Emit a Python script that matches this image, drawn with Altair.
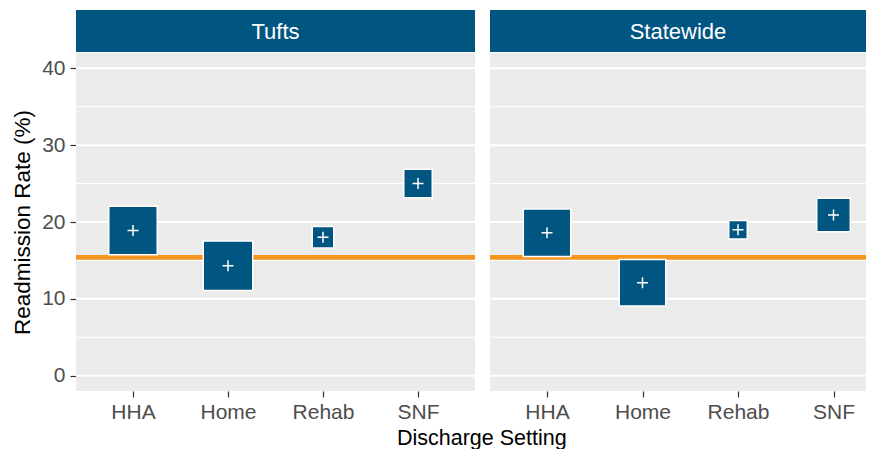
import altair as alt
import pandas as pd

settings = ["HHA", "Home", "Rehab", "SNF"]
regions = ["Tufts", "Statewide"]
tufts_rate = [18.9, 14.3, 18.0, 25.0]
statewide_rate = [18.6, 12.1, 19.0, 20.9]
# relative discharge volume (drives square area)
tufts_volume = [94, 98, 18.5, 32.5]
statewide_volume = [90, 86.5, 13.7, 45]
benchmark = 15.4
major_breaks = [0, 10, 20, 30, 40]
minor_breaks = [5, 15, 25, 35]

BLUE = "#005581"
ORANGE = "#F7941D"
FONT = "Liberation Sans"
PH, SH = 338, 42

rows = []
for reg, rates, vols in [("Tufts", tufts_rate, tufts_volume), ("Statewide", statewide_rate, statewide_volume)]:
    for s, r, v in zip(settings, rates, vols):
        rows.append({"region": reg, "setting": s, "rate": r, "volume": v})
df = pd.DataFrame(rows)

yscale = alt.Scale(domain=[-2, 42], nice=False, zero=False)


def panel(reg, first, pw, xpad, xalign):
    d = df[df.region == reg]
    if first:
        yaxis = alt.Axis(values=major_breaks, title="Readmission Rate (%)", grid=False,
                         tickSize=6, labelPadding=5, titlePadding=7, domain=False)
    else:
        yaxis = alt.Axis(values=major_breaks, title=None, grid=False, labels=False,
                         ticks=False, domain=False)
    x = alt.X("setting:N", sort=settings, title=None,
              scale=alt.Scale(type="point", padding=xpad, align=xalign),
              axis=alt.Axis(grid=False, domain=False, tickSize=6, labelPadding=4, labelAngle=0))
    gmaj = alt.Chart(pd.DataFrame({"v": major_breaks})).mark_rule(color="white", strokeWidth=2).encode(
        y=alt.Y("v:Q", scale=yscale, axis=yaxis))
    gmin = alt.Chart(pd.DataFrame({"v": minor_breaks})).mark_rule(color="white", strokeWidth=1).encode(
        y=alt.Y("v:Q", scale=yscale, axis=yaxis))
    base = alt.Chart(d)
    y = alt.Y("rate:Q", scale=yscale, axis=yaxis)
    ref = base.mark_rule(color=ORANGE, strokeWidth=4).encode(y=alt.datum(benchmark))
    sq = base.mark_point(shape="square", filled=True, fill=BLUE, stroke="white",
                         strokeWidth=1.5, opacity=1).encode(
        x=x, y=y,
        size=alt.Size("volume:Q", scale=alt.Scale(domain=[0, 100], range=[0, 2500]), legend=None),
    )
    plus = base.mark_point(shape="M-1,0H1M0,-1V1", filled=False, stroke="white",
                           strokeWidth=1.5, size=121, opacity=1).encode(x=x, y=y)
    plot = alt.layer(gmin, gmaj, ref, sq, plus).properties(width=pw, height=PH)

    sdf = pd.DataFrame({"region": [reg]})
    sb = alt.Chart(sdf)
    strip_rect = sb.mark_rect(color=BLUE).encode(
        x=alt.value(0), x2=alt.value(pw), y=alt.value(0), y2=alt.value(SH))
    strip_text = sb.mark_text(color="white", font=FONT, fontSize=22).encode(
        text="region:N", x=alt.value(pw / 2), y=alt.value(SH / 2 + 1))
    strip = alt.layer(strip_rect, strip_text).properties(width=pw, height=SH)
    return alt.vconcat(strip, plot, spacing=1)


chart = alt.hconcat(
    panel("Tufts", True, 399, 0.6, 0.5),
    panel("Statewide", False, 376, 0.4686, 0.637),
    spacing=11,
).properties(
    title=alt.TitleParams("Discharge Setting", orient="bottom", anchor="middle",
                          fontSize=21.5, font=FONT, fontWeight="normal", color="black",
                          offset=6, dx=42),
    padding={"left": 3, "top": 2, "right": 0, "bottom": 0},
).configure_view(fill="#EBEBEB", stroke=None).configure_axis(
    labelFont=FONT, titleFont=FONT, labelFontSize=21, titleFontSize=22.5,
    labelColor="#4D4D4D", titleColor="black", tickColor="#333333", tickWidth=1.2,
    titleFontWeight="normal",
).configure_concat(spacing=11)

chart.save("out.html", embed_options={"renderer": "svg", "actions": False})
